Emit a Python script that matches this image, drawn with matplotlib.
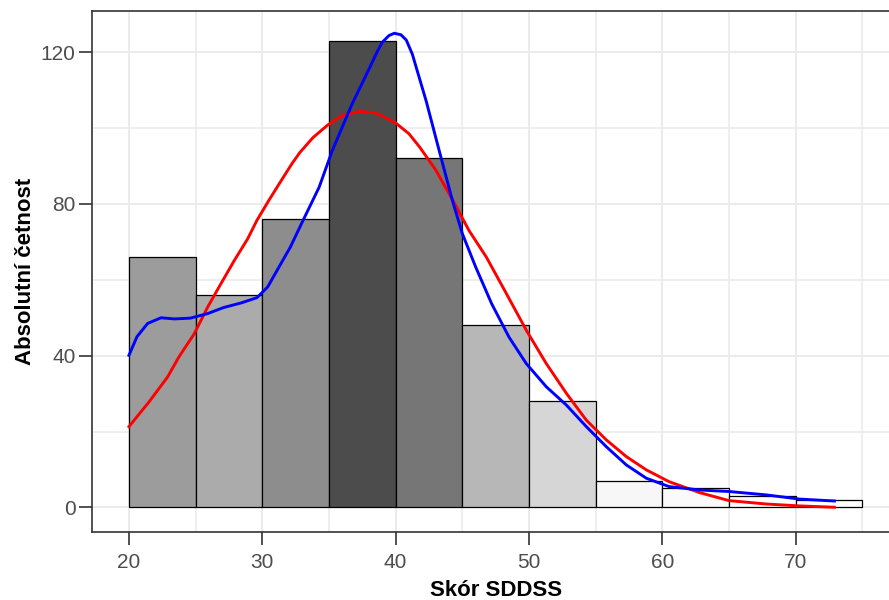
import numpy as np
import matplotlib
matplotlib.use("Agg")
import matplotlib.pyplot as plt

plt.rcParams['font.family'] = ['Liberation Sans', 'DejaVu Sans']

# histogram bins (Skór SDDSS) and counts
bin_left = [20, 25, 30, 35, 40, 45, 50, 55, 60, 65, 70]
counts = [66, 56, 76, 123, 92, 48, 28, 7, 5, 3, 2]

# red curve (normal fit)
red_x = [20, 21.5, 22.9, 23.75, 24.9, 25.9, 26.9, 27.9, 28.9, 29.6, 30.5, 31.3,
         32.2, 32.8, 33.8, 34.9, 36.0, 37.3, 38.5, 39.95, 41.0, 41.8, 43.0, 44.3,
         45.5, 46.8, 48.3, 49.8, 51.3, 52.8, 54.3, 55.8, 57.3, 58.8, 60.5, 62.8,
         65.0, 67.8, 70.3, 72.9]
red_y = [21.3, 27.8, 34.4, 39.7, 45.8, 52.8, 59.0, 65.1, 70.8, 75.7, 81.0, 85.5,
         90.5, 93.5, 97.5, 100.8, 103.3, 104.4, 104.0, 101.5, 98.5, 95.0, 89.0, 80.9,
         73.0, 66.0, 56.4, 46.7, 37.9, 30.1, 23.0, 17.8, 13.4, 9.9, 6.8, 3.9,
         1.8, 0.9, 0.4, 0.05]

# blue curve (kernel density)
blue_x = [20, 20.6, 21.4, 22.4, 23.4, 24.6, 25.9, 27.1, 28.4, 29.6, 30.4, 31.4,
          32.1, 33.06, 34.26, 35.24, 36.74, 37.79, 38.6, 38.99, 39.5, 39.9, 40.4,
          40.8, 41.25, 42.3, 43.27, 44.25, 45.0, 46.0, 47.2, 48.5, 49.8, 51.3,
          52.8, 54.3, 55.8, 57.3, 58.8, 60.5, 62.8, 65.0, 67.8, 70.3, 72.9]
blue_y = [40.1, 45.0, 48.5, 50.0, 49.7, 49.9, 51.1, 52.7, 53.9, 55.3, 58.1, 64.3,
          68.6, 75.7, 84.4, 94.0, 106.4, 114.0, 120.0, 122.6, 124.4, 125.0, 124.6,
          123.2, 119.5, 107.0, 94.0, 81.0, 72.2, 63.4, 53.7, 44.9, 37.9, 31.8,
          27.0, 21.3, 16.0, 11.2, 7.7, 5.5, 4.6, 4.2, 3.3, 2.2, 1.7]


def lab_gray(t):
    # interpolate white -> grey30 in L*, like ggplot's gradient
    L = 100 - t * (100 - 32.4)
    Y = ((L + 16) / 116) ** 3 if L > 8 else L / 903.3
    v = 1.055 * Y ** (1 / 2.4) - 0.055 if Y > 0.0031308 else 12.92 * Y
    return (v, v, v)


c = np.array(counts)
t = (c - c.min()) / (c.max() - c.min())
colors = [lab_gray(v) for v in t]

fig = plt.figure(figsize=(8.89, 6.0), dpi=100)
# panel runs past the right edge of the image, as in the original
ax = fig.add_axes([0.1038, 0.1138, 0.9075, 0.8687])

ax.bar(bin_left, counts, width=5, align='edge', color=colors,
       edgecolor='black', linewidth=0.9, zorder=2)
ax.plot(red_x, red_y, color='red', lw=2.1, zorder=3)
ax.plot(blue_x, blue_y, color='blue', lw=2.1, zorder=4)

ax.set_xlim(17.25, 77.75)
ax.set_ylim(-6.4, 131.0)
ax.set_xticks([20, 30, 40, 50, 60, 70])
ax.set_xticks([25, 35, 45, 55, 65, 75], minor=True)
ax.set_yticks([0, 40, 80, 120])
ax.set_yticks([20, 60, 100], minor=True)
ax.grid(True, which='major', color='#EBEBEB', lw=1.4, zorder=0)
ax.grid(True, which='minor', color='#EBEBEB', lw=1.2, zorder=0)
ax.set_axisbelow(True)
ax.tick_params(which='major', length=9.5, width=1.2, color='#333333',
               labelsize=15, labelcolor='#4D4D4D')
ax.tick_params(axis='y', pad=2.5)
ax.tick_params(axis='x', pad=5.5)
ax.tick_params(which='minor', length=0)
for s in ax.spines.values():
    s.set_color('#333333')
    s.set_linewidth(1.2)

ax.set_xlabel('Skór SDDSS', fontsize=16, fontweight='bold', labelpad=6)
ax.set_ylabel('Absolutní četnost', fontsize=16, fontweight='bold', labelpad=3.5)

fig.savefig('out.png', dpi=100)
